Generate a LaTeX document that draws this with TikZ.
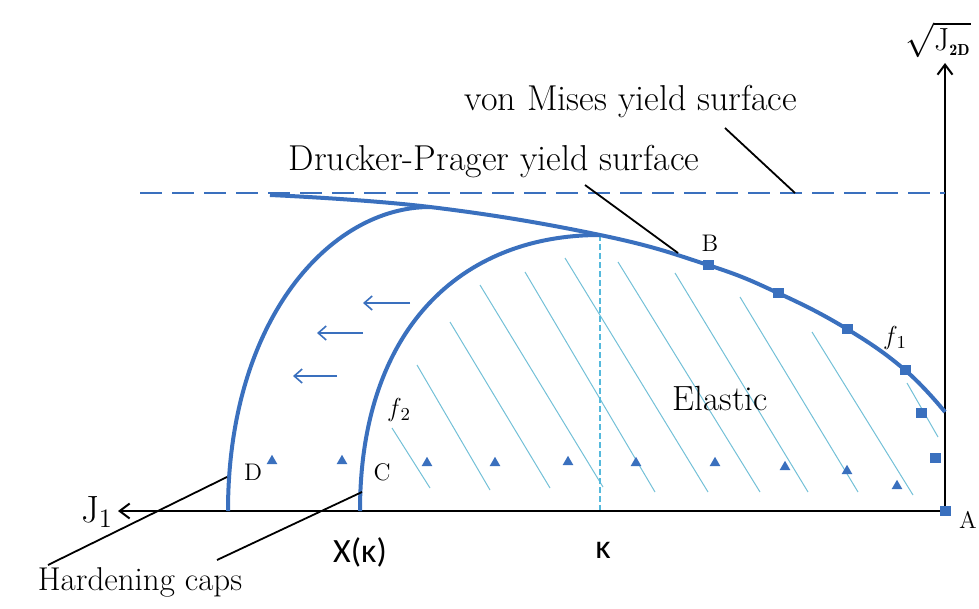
\documentclass[tikz,border=0pt]{standalone}
\usepackage{amsmath}
\usepackage{fontspec}
\usepackage{xcolor}
\usepackage{tikz}
\usetikzlibrary{positioning, shapes, arrows.meta, calc}

\newfontfamily\calib{Carlito}
\definecolor{capblue}{RGB}{58,112,190}
\definecolor{hatchcyan}{RGB}{115,192,215}
\definecolor{kapcyan}{RGB}{85,185,220}

\begin{document}
\begin{tikzpicture}[x=0.5pt, y=-0.5pt,
    axis/.style={line width=1pt, -{Straight Barb[length=5pt,width=7.5pt]}},
    surf/.style={capblue, line width=2pt},
    hatch/.style={hatchcyan, line width=0.5pt},
    lead/.style={line width=0.9pt},
    tri/.style={regular polygon, regular polygon sides=3, fill=capblue, inner sep=0pt, minimum size=6.2pt},
    sq/.style={rectangle, fill=capblue, inner sep=0pt, minimum width=5.5pt, minimum height=5pt},
    big/.style={font=\fontsize{18}{21}\selectfont},
    pt/.style={font=\fontsize{12}{14}\selectfont}]
        \useasboundingbox (0,0) rectangle (979,609);

        % elastic region hatching
        \foreach \xa/\ya/\xb/\yb in {392/428/430/488, 417/365/490/490, 450/322/550/488, 480/285/603/487,
                                     525/272/655/492, 565/258/708/492, 618/262/760/492, 675/273/808/492,
                                     740/297/858/492, 812/332/913/495, 907/383/938/437}
          \draw[hatch] (\xa,\ya) -- (\xb,\yb);
        \draw[kapcyan, line width=0.6pt, dash pattern=on 3pt off 1.5pt] (600,235) -- (600,511);

        % axes
        \coordinate (A0) at (945,511);
        \coordinate (jtip) at (118,511);
        \coordinate (ytip) at (945,63);
        \draw[axis] (A0) -- (jtip);
        \draw[axis] (A0) -- (ytip);

        % yield surfaces and caps
        \draw[capblue, line width=1.4pt, dash pattern=on 11pt off 5pt] (140,193) -- (945,193);
        \draw[surf] plot[smooth, tension=0.7] coordinates {(270,195) (430,207) (600,235) (708,265)
                    (778,293) (847,329) (905,370) (945,412)};
        \draw[surf] (228,511) .. controls (228,320) and (330,207) .. (430,207);
        \draw[surf] (360,511) .. controls (360,330) and (460,235) .. (600,235);

        \foreach \x/\y [count=\i] in {272/461, 342/461, 427/463, 495/463, 568/462, 636/463, 715/463, 785/467, 847/471, 897/486}
          \node[tri] (t\i) at (\x,\y) {};
        \foreach \x/\y [count=\i] in {708/265, 778/293, 847/329, 905/370, 921/413, 935/458, 945/511}
          \node[sq] (s\i) at (\x,\y) {};

        \foreach \xa/\xb/\y in {410/363/303, 363/317/333, 337/293/376}
          \draw[capblue, line width=0.8pt, -{Straight Barb[length=4pt,width=7pt]}] (\xa,\y) -- (\xb,\y);

        % labels
        \node[big] (vm) at (631,102) {von Mises yield surface};
        \node[big] (dp) at (494,162) {Drucker-Prager yield surface};
        \node[font=\fontsize{17.5}{20}\selectfont] (el) at (720,398) {Elastic};
        \node[font=\fontsize{16.5}{19}\selectfont] (hc) at (140,582) {Hardening caps};
        \node[pt] (B) at (710,243) {B};
        \node[pt] (C) at (382,472) {C};
        \node[pt] (D) at (253,472) {D};
        \node[pt] (A) at (968,520) {A};
        \node[font=\fontsize{13}{15}\selectfont] (f1) at (896,338) {\textit{f}\textsubscript{1}};
        \node[font=\fontsize{13}{15}\selectfont] (f2) at (400,410) {\textit{f}\textsubscript{2}};
        \node[font=\fontsize{19}{22}\selectfont] (j1) at (97,512) {J\textsubscript{1}};
        \node[font=\fontsize{17}{20}\selectfont\calib] (xk) at (360,552) {X(κ)};
        \node[font=\fontsize{17}{20}\selectfont\calib] (k) at (603,550) {κ};
        \node[font=\fontsize{16}{19}\selectfont, inner sep=0pt] (ylab) at (938,40) {$\sqrt{\mathrm{J}_{\scriptscriptstyle\mathbf{2D}}}$};

        % leaders
        \coordinate (vmA) at (725,128);
        \coordinate (vmB) at (795,193);
        \coordinate (dpA) at (585,185);
        \coordinate (dpB) at (678,253);
        \coordinate (hcA) at (48,565);
        \coordinate (hcB) at (217,560);
        \coordinate (dcap) at (227,477);
        \coordinate (ccap) at (362,492);
        \draw[lead] (vmA) -- (vmB);
        \draw[lead] (dpA) -- (dpB);
        \draw[lead] (hcA) -- (dcap);
        \draw[lead] (hcB) -- (ccap);
\end{tikzpicture}
\end{document}
